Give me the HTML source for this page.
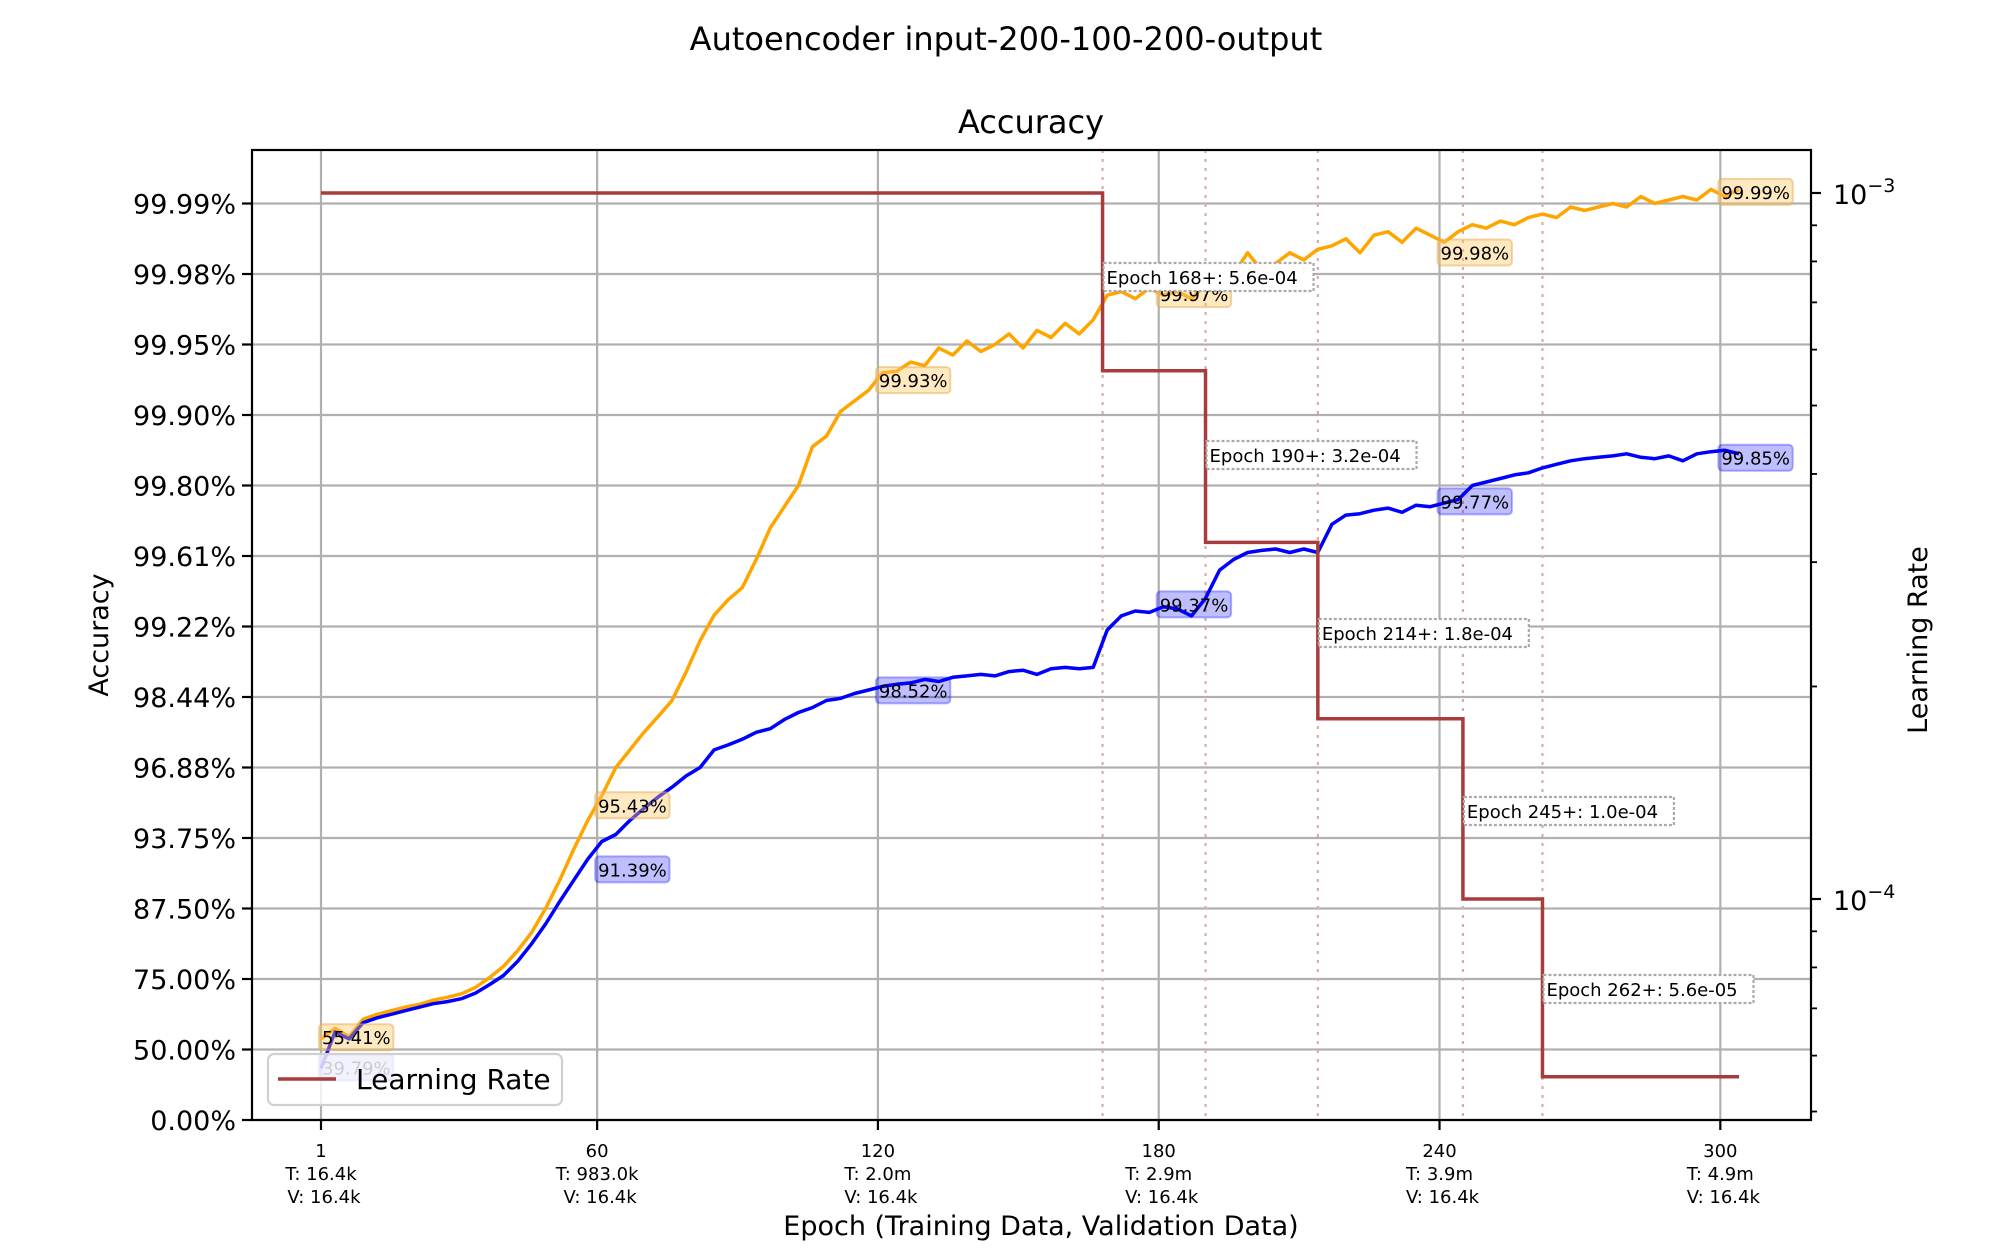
<!DOCTYPE html>
<html><head><meta charset="utf-8">
<style>
html,body{margin:0;padding:0;background:#fff;}
svg{display:block;font-family:"DejaVu Sans","Liberation Sans",sans-serif;}
</style></head>
<body>
<svg id="chart" xmlns="http://www.w3.org/2000/svg" width="2012" height="1257" viewBox="0 0 2012 1257"></svg>
<script>
// ---- data ----
// accuracy expressed as error-bits: -log2(1 - accuracy), sampled every 3 epochs starting at epoch 1
const sampleStep = 3;
const valErrBits = [1.15,1.3,1.18,1.43,1.5,1.55,1.6,1.64,1.7,1.74,1.79,1.88,2.02,2.18,2.4,2.66,3.0,3.4,3.84,4.25,4.6,5.0,5.25,5.5,5.72,5.95,6.35,6.8,7.16,7.38,7.55,7.95,8.4,8.7,9.0,9.55,9.7,10.05,10.2,10.35,10.6,10.62,10.75,10.7,10.95,10.85,11.05,10.9,11.0,11.15,10.95,11.2,11.1,11.3,11.15,11.35,11.7,11.75,11.65,11.8,11.7,11.75,11.65,11.85,11.95,12.0,12.3,12.05,12.15,12.3,12.2,12.35,12.4,12.5,12.3,12.55,12.6,12.45,12.65,12.55,12.45,12.6,12.7,12.65,12.75,12.7,12.8,12.85,12.8,12.95,12.9,12.95,13.0,12.95,13.1,13.0,13.05,13.1,13.05,13.2,13.1,13.2];
const trainErrBits = [0.73,1.25,1.15,1.38,1.45,1.5,1.55,1.6,1.65,1.68,1.72,1.8,1.92,2.05,2.25,2.5,2.78,3.1,3.4,3.7,3.95,4.05,4.25,4.42,4.58,4.72,4.88,5.0,5.25,5.32,5.4,5.5,5.55,5.68,5.78,5.85,5.95,5.98,6.05,6.1,6.15,6.18,6.2,6.25,6.22,6.28,6.3,6.32,6.3,6.36,6.38,6.32,6.4,6.42,6.4,6.42,6.95,7.15,7.22,7.2,7.28,7.25,7.15,7.4,7.8,7.95,8.05,8.08,8.1,8.05,8.1,8.05,8.45,8.58,8.6,8.65,8.68,8.62,8.72,8.7,8.75,8.8,9.0,9.05,9.1,9.15,9.18,9.25,9.3,9.35,9.38,9.4,9.42,9.45,9.4,9.38,9.42,9.35,9.45,9.48,9.5,9.45];
const labelEpochs = [1,60,120,180,240,300];
const valLabels = ["55.41%","95.43%","99.93%","99.97%","99.98%","99.99%"];
const valLabelBits = [1.16,4.45,10.48,11.7,12.29,13.15];
const trainLabels = ["39.79%","91.39%","98.52%","99.37%","99.77%","99.85%"];
const trainLabelBits = [0.73,3.54,6.08,7.3,8.76,9.38];
const lrChangeEpochs = [1,168,190,214,245,262];
const lrValues = [1e-3,5.6e-4,3.2e-4,1.8e-4,1.0e-4,5.6e-5];
const lrEndEpoch = 304;
const xTickEpochs = [1,60,120,180,240,300];
const xTickTrain = ["16.4k","983.0k","2.0m","2.9m","3.9m","4.9m"];
const xTickVal = ["16.4k","16.4k","16.4k","16.4k","16.4k","16.4k"];
const yTickLabels = ["0.00%","50.00%","75.00%","87.50%","93.75%","96.88%","98.44%","99.22%","99.61%","99.80%","99.90%","99.95%","99.98%","99.99%"];

// ---- geometry ----
const L=252, R=1811, T=150, B=1120;
const X = e => 321 + (e-1)*4.68;
const Y = k => 1120 - k*70.5;
const YLR = lr => 193 - (Math.log10(lr)+3)*706;
const NS="http://www.w3.org/2000/svg";
const svg=document.getElementById('chart');
function mk(tag, attrs, parent){const el=document.createElementNS(NS,tag);for(const k in attrs)el.setAttribute(k,attrs[k]);(parent||svg).appendChild(el);return el;}
function txt(s, attrs, parent){const el=mk('text',attrs,parent);el.textContent=s;return el;}

const defs=mk('defs',{});
const cp=mk('clipPath',{id:'plotclip'},defs);
mk('rect',{x:L,y:T,width:R-L,height:B-T},cp);

let t;
t=txt("Autoencoder input-200-100-200-output",{x:1006,y:50,'font-size':32,'text-anchor':'middle'});


t=txt("Accuracy",{x:1031,y:133,'font-size':32,'text-anchor':'middle'});



const grid=mk('g',{stroke:'#b0b0b0','stroke-width':2.2});


xTickEpochs.forEach(e=>mk('line',{x1:X(e),x2:X(e),y1:T,y2:B},grid));
yTickLabels.forEach((s,i)=>mk('line',{x1:L,x2:R,y1:Y(i),y2:Y(i)},grid));

yTickLabels.forEach((s,i)=>{
  mk('line',{x1:L-10,x2:L,y1:Y(i),y2:Y(i),stroke:'#000','stroke-width':2.2});
  const tl=txt(s,{x:L-16,y:Y(i)+10,'font-size':27,'text-anchor':'end'});
  
  
});
xTickEpochs.forEach((e,i)=>{
  mk('line',{x1:X(e),x2:X(e),y1:B,y2:B+10,stroke:'#000','stroke-width':2.2});
  const g=mk('g',{'font-size':18,'text-anchor':'middle'});
  
  
  txt(String(e),{x:X(e),y:B+37},g);
  txt("T: "+xTickTrain[i],{x:X(e),y:B+60},g);
  txt("V: "+xTickVal[i],{x:X(e)+3,y:B+83},g);
});

lrChangeEpochs.slice(1).forEach(e=>{
  const l=mk('line',{x1:X(e),x2:X(e),y1:T,y2:B,stroke:'#dcaaaa','stroke-width':2.2,'stroke-dasharray':'3,6'});
  
  
});

function seriesPath(arr){return arr.map((k,i)=>(i?'L':'M')+X(1+i*sampleStep).toFixed(1)+','+Y(k).toFixed(1)).join(' ');}
const pv=mk('path',{d:seriesPath(valErrBits),fill:'none',stroke:'#ffa500','stroke-width':3.5,'stroke-linejoin':'round','clip-path':'url(#plotclip)'});


const pt=mk('path',{d:seriesPath(trainErrBits),fill:'none',stroke:'#0000ff','stroke-width':3.5,'stroke-linejoin':'round','clip-path':'url(#plotclip)'});



let d='';
lrChangeEpochs.forEach((e,i)=>{
  const x0=X(e), x1=X(i+1<lrChangeEpochs.length?lrChangeEpochs[i+1]:lrEndEpoch), y=YLR(lrValues[i]);
  d+=(i?'L':'M')+x0+','+y+' L'+x1+','+y+' ';
});
const plr=mk('path',{d:d,fill:'none',stroke:'#a83c3c','stroke-width':3.5});



function pctLabel(s,e,k,bg,border,name){
  const g=mk('g',{});
  
  
  const w=s.length*11.4+6;
  mk('rect',{x:X(e)-2,y:Y(k)-14,width:w,height:26,rx:4,fill:bg,stroke:border,'stroke-width':2},g);
  txt(s,{x:X(e)+1,y:Y(k)+6,'font-size':18},g);
}
labelEpochs.forEach((e,i)=>pctLabel(trainLabels[i],e,trainLabelBits[i],'rgba(0,0,255,0.25)','rgba(0,0,255,0.3)','training-value-label'));
labelEpochs.forEach((e,i)=>pctLabel(valLabels[i],e,valLabelBits[i],'rgba(255,200,100,0.4)','rgba(230,170,80,0.5)','validation-value-label'));

lrChangeEpochs.slice(1).forEach((e,i)=>{
  const g=mk('g',{});
  
  
  const s="Epoch "+e+"+: "+lrValues[i+1].toExponential(1).replace('e-','e-0');
  const yc=277+i*178;
  mk('rect',{x:X(e)+1,y:yc-14,width:210,height:28,fill:'#fff',stroke:'#aaa','stroke-width':2.2,'stroke-dasharray':'3,2'},g);
  txt(s,{x:X(e)+4,y:yc+7,'font-size':18},g);
});

const ra=mk('g',{});


[1e-3,1e-4].forEach(v=>{
  mk('line',{x1:R,x2:R+10,y1:YLR(v),y2:YLR(v),stroke:'#000','stroke-width':2.2},ra);
  const tt=txt('10',{x:R+22,y:YLR(v)+11,'font-size':27},ra);
  const sup=mk('tspan',{dy:-12,'font-size':19},tt); sup.textContent='\u2212'+(v===1e-3?'3':'4');
});
[9e-4,8e-4,7e-4,6e-4,5e-4,4e-4,3e-4,2e-4,9e-5,8e-5,7e-5,6e-5,5e-5].forEach(v=>{
  mk('line',{x1:R,x2:R+6,y1:YLR(v),y2:YLR(v),stroke:'#000','stroke-width':1.8},ra);
});

const sp=mk('rect',{x:L,y:T,width:R-L,height:B-T,fill:'none',stroke:'#000','stroke-width':2.2});



t=txt("Accuracy",{x:0,y:0,'font-size':27,'text-anchor':'middle',transform:'translate(108,635) rotate(-90)'});


t=txt("Learning Rate",{x:0,y:0,'font-size':27,'text-anchor':'middle',transform:'translate(1950,640) rotate(-90)'});


t.setAttribute('transform','translate(1927,640) rotate(-90)');
t=txt("Epoch (Training Data, Validation Data)",{x:1041,y:1235,'font-size':27,'text-anchor':'middle'});



const lg=mk('g',{});


mk('rect',{x:268,y:1054,width:294,height:51,rx:6,fill:'rgba(255,255,255,0.8)',stroke:'#d0d0d0','stroke-width':2.2},lg);
mk('line',{x1:278,x2:336,y1:1079,y2:1079,stroke:'#a83c3c','stroke-width':3.5},lg);
const lt=txt("Learning Rate",{x:356,y:1089,'font-size':28},lg);


</script>
</body></html>
